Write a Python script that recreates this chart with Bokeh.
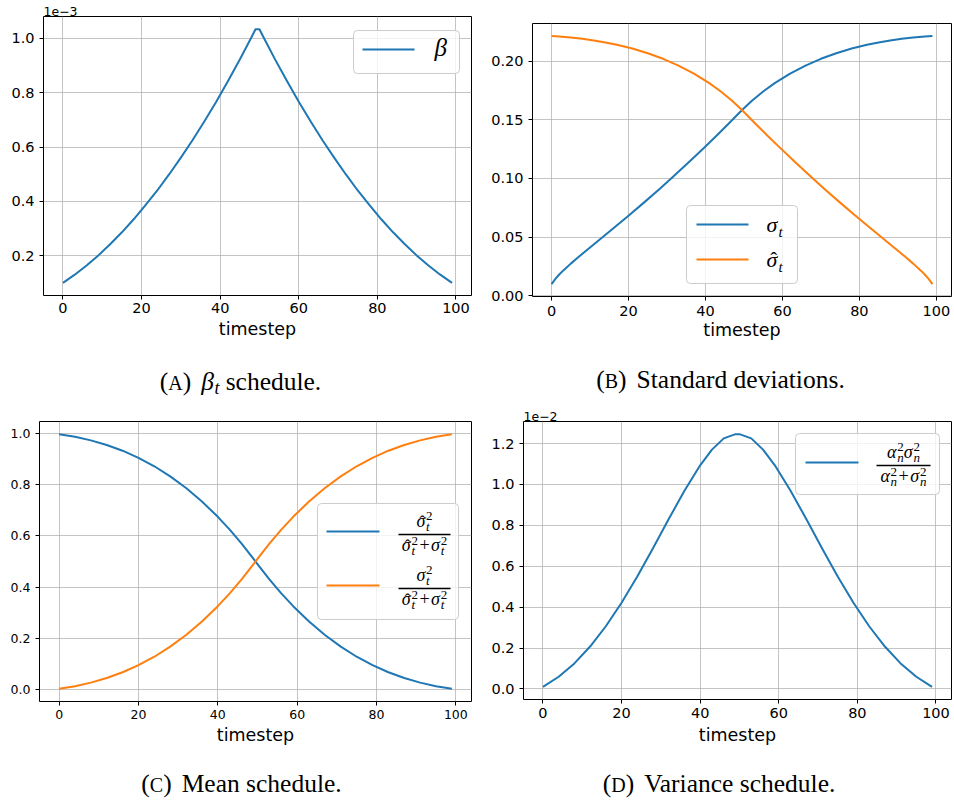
import numpy as np
from bokeh.plotting import figure
from bokeh.models import Range1d, FixedTicker, NumeralTickFormatter, Label, BoxAnnotation
from bokeh.layouts import column, row
from bokeh.embed import file_html
from bokeh.resources import INLINE

BLUE = "#1f77b4"
ORANGE = "#ff7f0e"

# ---------------- data ----------------
x_ticks = [0, 20, 40, 60, 80, 100]

# (A) beta schedule
t_beta = [0, 3, 6, 9, 12, 15, 18, 21, 24, 27, 30, 33, 36, 39, 42, 45, 48, 49,
          50, 51, 54, 57, 60, 63, 66, 69, 72, 75, 78, 81, 84, 87, 90, 93, 96, 99]
beta = [0.100e-3, 0.130e-3, 0.164e-3, 0.201e-3, 0.242e-3, 0.286e-3, 0.334e-3, 0.386e-3,
        0.440e-3, 0.499e-3, 0.561e-3, 0.626e-3, 0.695e-3, 0.767e-3, 0.843e-3, 0.922e-3,
        1.005e-3, 1.034e-3,
        1.034e-3, 1.005e-3, 0.922e-3, 0.843e-3, 0.767e-3, 0.695e-3, 0.626e-3, 0.561e-3,
        0.499e-3, 0.440e-3, 0.386e-3, 0.334e-3, 0.286e-3, 0.242e-3, 0.201e-3, 0.164e-3,
        0.130e-3, 0.100e-3]
beta_ticks = [0.2, 0.4, 0.6, 0.8, 1.0]

# (B) standard deviations
t_sigma = [0, 1, 2, 3, 5, 7, 10, 13, 16, 20, 24, 28, 32, 36, 40, 43, 46, 49,
           50, 52, 55, 58, 62, 66, 70, 74, 78, 82, 85, 88, 91, 94, 97, 99]
sigma = [0.01000, 0.01448, 0.01815, 0.02145, 0.02744, 0.03307, 0.04120, 0.04924, 0.05730,
         0.06823, 0.07941, 0.09089, 0.10270, 0.11484, 0.12731, 0.13688, 0.14664, 0.15659,
         0.15986, 0.16594, 0.17408, 0.18120, 0.18935, 0.19620, 0.20194, 0.20672, 0.21068,
         0.21391, 0.21591, 0.21758, 0.21897, 0.22009, 0.22098, 0.22145]
t_sigma_hat = [0, 2, 5, 8, 11, 14, 17, 21, 25, 29, 33, 37, 41, 44, 47, 49,
               50, 53, 56, 59, 63, 67, 71, 75, 79, 83, 86, 89, 92, 94, 96, 97, 98, 99]
sigma_hat = [0.22145, 0.22098, 0.22009, 0.21897, 0.21758, 0.21591, 0.21391, 0.21068, 0.20672,
             0.20194, 0.19620, 0.18935, 0.18120, 0.17408, 0.16594, 0.15986,
             0.15659, 0.14664, 0.13688, 0.12731, 0.11484, 0.10270, 0.09089, 0.07941, 0.06823,
             0.05730, 0.04924, 0.04120, 0.03307, 0.02744, 0.02145, 0.01815, 0.01448, 0.01000]
std_ticks = [0.0, 0.05, 0.10, 0.15, 0.20]

# (C) mean schedule
t_mean = [0, 4, 8, 12, 16, 20, 24, 28, 32, 36, 40, 43, 46, 49,
          50, 53, 56, 59, 63, 67, 71, 75, 79, 83, 87, 91, 95, 99]
mean_sig = [0.0020, 0.0122, 0.0260, 0.0440, 0.0666, 0.0942, 0.1274, 0.1668, 0.2125, 0.2652,
            0.3252, 0.3754, 0.4302, 0.4897,
            0.5103, 0.5698, 0.6246, 0.6748, 0.7349, 0.7876, 0.8332, 0.8726, 0.9058, 0.9335,
            0.9560, 0.9740, 0.9878, 0.9980]
mean_hat = [0.9980, 0.9878, 0.9740, 0.9560, 0.9335, 0.9058, 0.8726, 0.8332, 0.7876, 0.7349,
            0.6748, 0.6246, 0.5698, 0.5103,
            0.4897, 0.4302, 0.3754, 0.3252, 0.2652, 0.2125, 0.1668, 0.1274, 0.0942, 0.0666,
            0.0440, 0.0260, 0.0122, 0.0020]
mean_ticks = [0.0, 0.2, 0.4, 0.6, 0.8, 1.0]

# (D) variance schedule
t_var = [0, 4, 8, 12, 16, 20, 24, 28, 32, 36, 40, 43, 46, 49,
         50, 53, 56, 59, 63, 67, 71, 75, 79, 83, 87, 91, 95, 99]
variance = [0.0100e-2, 0.0594e-2, 0.1248e-2, 0.2072e-2, 0.3065e-2, 0.4216e-2, 0.5502e-2,
            0.6883e-2, 0.8306e-2, 0.9691e-2, 1.0936e-2, 1.1703e-2, 1.2253e-2, 1.2460e-2,
            1.2460e-2, 1.2253e-2, 1.1703e-2, 1.0936e-2, 0.9691e-2, 0.8306e-2, 0.6883e-2,
            0.5502e-2, 0.4216e-2, 0.3065e-2, 0.2072e-2, 0.1248e-2, 0.0594e-2, 0.0100e-2]
var_ticks = [0.0, 0.2, 0.4, 0.6, 0.8, 1.0, 1.2]

# ---------------- helpers ----------------
SERIF = "Liberation Serif"
W_R = {'(': 333, ')': 333, ' ': 250, 'A': 722, 'B': 667, 'C': 667, 'D': 722, 'S': 556, 'M': 889,
       'V': 722, 'a': 444, 'c': 444, 'd': 500, 'e': 444, 'h': 500, 'i': 278, 'l': 278, 'n': 500,
       'o': 500, 'r': 333, 's': 389, 't': 278, 'u': 500, 'v': 500, '.': 250, '+': 564, '2': 500}
W_I = {'t': 290, 'n': 500, 'β': 520, 'σ': 540, 'α': 560}
BASE_FIX = 0.33   # renderer draws "alphabetic" text about this many em lower
CAP = 25.5        # caption font size
SC = 20           # small-caps letter size


def tw(s, size, italic):
    tbl = W_I if italic else W_R
    return sum(tbl.get(c, 500) for c in s) / 1000.0 * size


def T(text, size, italic=False, dy=0, hat=False, pad=0):
    return dict(kind="t", text=text, size=size, italic=italic, dy=dy, hat=hat, pad=pad)


def S(sup, sub, size, up, down):
    return dict(kind="s", sup=sup, sub=sub, size=size, up=up, down=down, pad=0)


def lab(p, x, y, text, size, italic=False, align="left", font=SERIF):
    if not text.strip():
        return
    p.add_layout(Label(x=x, y=y + BASE_FIX * size, x_units="screen", y_units="screen",
                       text=text, text_font=font, text_font_size=f"{size}px",
                       text_font_style="italic" if italic else "normal",
                       text_color="black", text_align=align, text_baseline="alphabetic"))


def rich(p, x, y, items, align="left"):
    widths = []
    for it in items:
        if it["kind"] == "t":
            w = tw(it["text"], it["size"], it["italic"])
        else:
            w = max(tw(it["sup"], it["size"], not it["sup"].isdigit()),
                    tw(it["sub"], it["size"], not it["sub"].isdigit()))
        widths.append(w + 2 * it["pad"])
    total = sum(widths)
    cx = x - total / 2.0 if align == "center" else x
    for it, w in zip(items, widths):
        px = cx + it["pad"]
        if it["kind"] == "t":
            lab(p, px, y + it["dy"], it["text"], it["size"], it["italic"])
            if it["hat"]:
                lab(p, px + 0.6 * (w - 2 * it["pad"]), y + it["dy"] - 0.04 * it["size"],
                    "ˆ", round(it["size"] * 0.95, 1), False, align="center")
        else:
            lab(p, px, y + it["up"], it["sup"], it["size"], not it["sup"].isdigit())
            lab(p, px, y + it["down"], it["sub"], it["size"], not it["sub"].isdigit())
        cx += w


def box(p, l, r, b, t, fill="white", alpha=0.8, line="#cccccc", radius=4):
    p.add_layout(BoxAnnotation(left=l, right=r, bottom=b, top=t,
                               left_units="screen", right_units="screen",
                               bottom_units="screen", top_units="screen",
                               fill_color=fill, fill_alpha=alpha,
                               line_color=line, line_width=1 if line else 0,
                               line_alpha=1 if line else 0, border_radius=radius))


def hline(p, l, r, y, color, thick=2.0):
    box(p, l, r, y - thick / 2, y + thick / 2, fill=color, alpha=1, line=None, radius=0)


def padded(vals):
    lo, hi = min(vals), max(vals)
    d = (hi - lo) * 0.05
    return Range1d(lo - d, hi + d)


def make_fig(fw, fh, left, right, top, yvals, yticks, yfmt, tick_size,
             tick_standoff=3, label_standoff=0, offset_text=""):
    p = figure(frame_width=fw, frame_height=fh, min_border_left=left, min_border_right=right,
               min_border_top=top, min_border_bottom=55,
               x_range=Range1d(-4.95, 103.95), y_range=padded(yvals),
               output_backend="svg", toolbar_location=None)
    p.background_fill_color = "white"
    p.border_fill_color = "white"
    p.outline_line_color = "black"
    p.outline_line_width = 1
    p.outline_line_alpha = 1
    p.title.text = offset_text
    p.title.align = "left"
    p.title.text_font = "DejaVu Sans"
    p.title.text_font_size = "12.5px"
    p.title.text_font_style = "normal"
    p.title.text_color = "black"
    p.title.standoff = 1
    p.title.offset = 0
    p.xaxis.ticker = FixedTicker(ticks=x_ticks)
    p.yaxis.ticker = FixedTicker(ticks=yticks)
    p.yaxis.formatter = NumeralTickFormatter(format=yfmt)
    for ax in p.axis:
        ax.axis_line_color = None
        ax.major_tick_in = 0
        ax.major_tick_out = 4
        ax.major_tick_line_color = "black"
        ax.minor_tick_line_color = None
        ax.major_label_text_font = "DejaVu Sans"
        ax.major_label_text_font_size = tick_size
        ax.major_label_text_color = "black"
    p.yaxis.major_label_standoff = 5
    p.xaxis.major_label_standoff = tick_standoff
    p.xaxis.axis_label = "timestep"
    p.xaxis.axis_label_text_font = "DejaVu Sans"
    p.xaxis.axis_label_text_font_size = "17.5px"
    p.xaxis.axis_label_text_font_style = "normal"
    p.xaxis.axis_label_text_color = "black"
    p.xaxis.axis_label_standoff = label_standoff
    p.grid.grid_line_color = "#b0b0b0"
    p.grid.grid_line_alpha = 0.75
    p.grid.grid_line_width = 1
    return p


def caption_fig(h, cx, base, letter, rest_items):
    # inside a column, this figure's frame is aligned with the plot frame above it,
    # so cx is measured from that plot frame's left edge
    p = figure(width=477, height=h, min_border=0, min_border_left=0, min_border_right=0,
               min_border_top=0, min_border_bottom=0,
               x_range=Range1d(0, 477), y_range=Range1d(0, h),
               x_axis_type=None, y_axis_type=None,
               output_backend="svg", toolbar_location=None)
    p.outline_line_color = None
    p.background_fill_color = "white"
    p.border_fill_color = "white"
    items = [T("(", CAP), T(letter, SC), T(")", CAP), T("", CAP, pad=5)] + rest_items
    rich(p, cx, base, items, align="center")
    return p


LW = 2
FB, FS = 18, 13   # fraction base / script sizes

# ---------------- (A) ----------------
beta_s = list(np.array(beta) * 1e3)
pa = make_fig(428, 279, 43, 6, 16, beta_s, beta_ticks, "0.0", "14.5px",
              tick_standoff=3, label_standoff=3, offset_text="1e\u22123")
pa.line(t_beta, beta_s, line_color=BLUE, line_width=LW, line_join="round")
box(pa, 310, 416, 222, 265)
hline(pa, 319, 371, 246, BLUE)
rich(pa, 391, 240, [T("β", 25, True)])
ca = caption_fig(50, 197, 11, "A", [T("β", CAP, True), T("t", 18, True, dy=-4),
                                     T("", CAP, pad=3), T("schedule.", CAP)])

# ---------------- (B) ----------------
pb = make_fig(419, 273, 55, 3, 23, sigma + sigma_hat, std_ticks, "0.00", "14.5px",
              tick_standoff=5, label_standoff=1)
pb.line(t_sigma, sigma, line_color=BLUE, line_width=LW, line_join="round")
pb.line(t_sigma_hat, sigma_hat, line_color=ORANGE, line_width=LW, line_join="round")
box(pb, 154, 265, 13, 91)
hline(pb, 164, 216, 72, BLUE)
hline(pb, 164, 216, 37, ORANGE)
rich(pb, 234, 65, [T("σ", 22, True), T("t", 15, True, dy=-5)])
rich(pb, 234, 30, [T("σ", 22, True, hat=True), T("t", 15, True, dy=-5)])
cb = caption_fig(49, 188, 13, "B", [T("Standard deviations.", CAP)])

# ---------------- (C) ----------------
pc = make_fig(432, 280, 39, 6, 21, mean_hat + mean_sig, mean_ticks, "0.0", "12.5px",
              tick_standoff=4, label_standoff=3)
pc.line(t_mean, mean_hat, line_color=BLUE, line_width=LW, line_join="round")
pc.line(t_mean, mean_sig, line_color=ORANGE, line_width=LW, line_join="round")
box(pc, 278, 419, 82, 198)
hline(pc, 287, 340, 170, BLUE)
hline(pc, 287, 340, 116, ORANGE)
for bar_y, hat_num in [(167, True), (113, False)]:
    hline(pc, 359, 411, bar_y, "black", 1.6)
    rich(pc, 385, bar_y + 8, [T("σ", FB, True, hat=hat_num), S("2", "t", FS, 6.5, -4)],
         align="center")
    rich(pc, 385, bar_y - 16, [T("σ", FB, True, hat=True), S("2", "t", FS, 5.5, -4),
                               T("+", FB, pad=1.5), T("σ", FB, True), S("2", "t", FS, 5.5, -4)],
         align="center")
cc = caption_fig(46, 202, 11, "C", [T("Mean schedule.", CAP)])

# ---------------- (D) ----------------
var_s = list(np.array(variance) * 1e2)
pd_ = make_fig(428, 278, 46, 3, 21, var_s, var_ticks, "0.0", "14.5px",
               tick_standoff=4, label_standoff=4, offset_text="1e\u22122")
pd_.line(t_var, var_s, line_color=BLUE, line_width=LW, line_join="round")
box(pd_, 272, 416, 205, 266)
hline(pd_, 282, 335, 237, BLUE)
hline(pd_, 353, 407, 234, "black", 1.6)
rich(pd_, 380, 242, [T("α", FB, True), S("2", "n", FS, 6.5, -4), T("σ", FB, True),
                     S("2", "n", FS, 6.5, -4)], align="center")
rich(pd_, 380, 218, [T("α", FB, True), S("2", "n", FS, 5.5, -4), T("+", FB, pad=1.5),
                     T("σ", FB, True), S("2", "n", FS, 5.5, -4)], align="center")
cd = caption_fig(48, 197, 11, "D", [T("Variance schedule.", CAP)])

layout = column(row(column(pa, ca), column(pb, cb)), row(column(pc, cc), column(pd_, cd)))
open("out.html", "w").write(file_html(layout, INLINE))
